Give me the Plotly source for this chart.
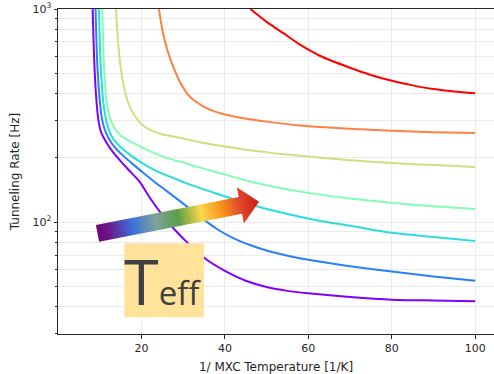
import base64
import numpy as np
import plotly.graph_objects as go

# Tunneling rate vs inverse mixing-chamber temperature, one curve per effective temperature
inv_temp_1 = [8.3, 8.7, 9.2, 9.7, 10.3, 11.4, 13, 15, 17, 19.5, 22, 25, 28, 31, 35, 40, 45, 50, 55, 60, 70, 80, 90, 100]
rate_1 = [1000, 560, 374, 300, 265, 240, 215, 193, 175, 155, 130, 108, 92, 80, 68, 59, 53, 49.5, 47.5, 46.3, 44.5, 43.2, 42.8, 42.5]

inv_temp_2 = [9.0, 9.4, 10.0, 10.6, 11.5, 13, 15, 17.5, 20, 23, 26, 30, 34, 38, 42, 46, 50, 55, 60, 70, 80, 90, 100]
rate_2 = [1000, 560, 374, 300, 262, 232, 210, 190, 173, 155, 140, 122, 106, 93, 84, 78, 73.5, 69.5, 66.5, 62, 58.5, 55.5, 53]

inv_temp_3 = [9.8, 10.2, 10.8, 11.8, 13, 15, 17.5, 20, 24, 28, 32, 37, 42, 48, 55, 62, 70, 80, 90, 100]
rate_3 = [1000, 560, 374, 285, 250, 225, 205, 190, 172, 160, 149, 138, 128, 118, 109, 102, 96, 89, 85, 81.5]

inv_temp_4 = [10.6, 11.0, 11.6, 12.4, 13.4, 15, 18, 22, 26, 30, 35, 40, 46, 52, 60, 70, 80, 90, 100]
rate_4 = [1000, 560, 374, 310, 279, 255, 235, 215, 200, 190, 178, 167, 155, 146, 137, 129, 123, 118.5, 115]

inv_temp_5 = [13.9, 14.4, 15, 15.8, 16.6, 17.6, 18.6, 20, 22.2, 25, 29.4, 35, 40, 46, 52, 60, 70, 80, 90, 100]
rate_5 = [1000, 700, 535, 430, 374, 335, 311, 288, 270, 258, 248, 235, 226, 217, 210, 203, 195, 189, 185, 181]

inv_temp_6 = [24.2, 25, 26.2, 27.7, 29.4, 31, 32.5, 34.5, 36.5, 40, 44.5, 50, 58, 70, 80, 90, 100]
rate_6 = [1000, 800, 642, 530, 448, 400, 374, 352, 336, 320, 307, 296, 284, 274, 268, 264, 262]

inv_temp_7 = [46.1, 50, 54, 58, 63, 70, 75, 80, 85, 90, 95, 100]
rate_7 = [1000, 870, 770, 680, 600, 530, 490, 460, 438, 421, 410, 402]

curve_colors = ["#8000ff", "#2a80f6", "#2adddd", "#80ffb4", "#d4dd80", "#ff8042", "#ff0000"]

x_ticks = [20, 40, 60, 80, 100]
y_ticks = [100, 1000]
y_tick_labels = ["10<sup>2</sup>", "10<sup>3</sup>"]
y_minor = [30, 40, 50, 60, 70, 80, 90, 200, 300, 400, 500, 600, 700, 800, 900]

W, H = 494, 374
ML, MR, MT, MB = 58, 0, 9, 40
PW, PH = W - ML - MR, H - MT - MB


def px_x(p):
    return (p - ML) / PW


def px_y(p):
    return (H - MB - p) / PH


fig = go.Figure()
curves = [
    (inv_temp_1, rate_1), (inv_temp_2, rate_2), (inv_temp_3, rate_3),
    (inv_temp_4, rate_4), (inv_temp_5, rate_5), (inv_temp_6, rate_6),
    (inv_temp_7, rate_7),
]
for (xs, ys), col in zip(curves, curve_colors):
    fig.add_trace(go.Scatter(
        x=xs, y=ys, mode="lines",
        line=dict(color=col, width=2, shape="spline", smoothing=0.7),
        showlegend=False, hoverinfo="skip",
    ))

# Gradient arrow (drawn as an inline SVG placed in paper coordinates)
box_x0, box_y0, box_w, box_h = 94, 184, 168, 62
tail = np.array([3.5, 49.3])
tip = np.array([165.0, 17.7])
d = tip - tail
length = np.hypot(*d)
d = d / length
n = np.array([-d[1], d[0]])
if n[1] < 0:
    n = -n
body_half, head_half, head_len = 8.5, 18.4, 19.0
base = tail + d * (length - head_len)
pts = [tail - body_half * n, base - body_half * n, base - head_half * n, tip,
       base + head_half * n, base + body_half * n, tail + body_half * n]
poly = " ".join(f"{p[0]:.2f},{p[1]:.2f}" for p in pts)
stops = [(0.0, "#6a0a7c"), (0.06, "#6c1284"), (0.22, "#3b72d8"), (0.36, "#7ea39c"),
         (0.50, "#5a9e46"), (0.64, "#fcd84e"), (0.77, "#f7921c"), (0.88, "#e04a2c"), (1.0, "#cc1a10")]
stop_xml = "".join(f'<stop offset="{o}" stop-color="{c}"/>' for o, c in stops)
svg = (
    f'<svg xmlns="http://www.w3.org/2000/svg" width="{box_w}" height="{box_h}" '
    f'viewBox="0 0 {box_w} {box_h}">'
    f'<defs><linearGradient id="g" gradientUnits="userSpaceOnUse" '
    f'x1="{tail[0]}" y1="{tail[1]}" x2="{tip[0]}" y2="{tip[1]}">{stop_xml}</linearGradient></defs>'
    f'<polygon points="{poly}" fill="url(#g)"/></svg>'
)
svg_uri = "data:image/svg+xml;base64," + base64.b64encode(svg.encode()).decode()

fig.add_layout_image(dict(
    source=svg_uri, xref="paper", yref="paper",
    x=px_x(box_x0), y=px_y(box_y0), sizex=box_w / PW, sizey=box_h / PH,
    xanchor="left", yanchor="top", sizing="stretch", layer="above",
))

# T_eff label on a pale yellow box
fig.add_shape(type="rect", xref="paper", yref="paper",
              x0=px_x(124.3), x1=px_x(204), y0=px_y(317.3), y1=px_y(243.3),
              fillcolor="#ffe39a", line=dict(width=0), layer="above")
fig.add_annotation(
    xref="paper", yref="paper", x=px_x(122), y=px_y(280),
    xanchor="left", yanchor="middle", showarrow=False,
    text="T<span style='font-size:33px'>eff</span>",
    font=dict(family="Open Sans", size=63, color="#404040"),
)

grid_col = "#ebebeb"
fig.update_layout(
    width=W, height=H,
    margin=dict(l=ML, r=MR, t=MT, b=MB),
    paper_bgcolor="white", plot_bgcolor="white",
    font=dict(family="DejaVu Sans", size=11, color="#262626"),
    xaxis=dict(
        range=[0, 104.5], tickvals=x_ticks, ticks="outside", ticklen=3.5, tickwidth=1,
        tickcolor="#262626", showline=True, linecolor="#262626", linewidth=1, mirror=True,
        showgrid=True, gridcolor=grid_col, gridwidth=1, zeroline=False,
        tickfont=dict(size=11),
        title=dict(text="1/ MXC Temperature [1/K]", standoff=10, font=dict(size=12)),
    ),
    yaxis=dict(
        type="log", range=[np.log10(29.8), 3.0], tickvals=y_ticks, ticktext=y_tick_labels,
        ticks="outside", ticklen=3.5, tickwidth=1, tickcolor="#262626",
        showline=True, linecolor="#262626", linewidth=1, mirror=False,
        showgrid=True, gridcolor=grid_col, gridwidth=1, zeroline=False,
        tickfont=dict(size=11),
        minor=dict(tickmode="array", tickvals=y_minor, ticks="outside", ticklen=2,
                   tickcolor="#262626", showgrid=True, gridcolor=grid_col, gridwidth=1),
        title=dict(text="Tunneling Rate [Hz]", standoff=10, font=dict(size=12)),
    ),
)

fig.write_html("out.html")
